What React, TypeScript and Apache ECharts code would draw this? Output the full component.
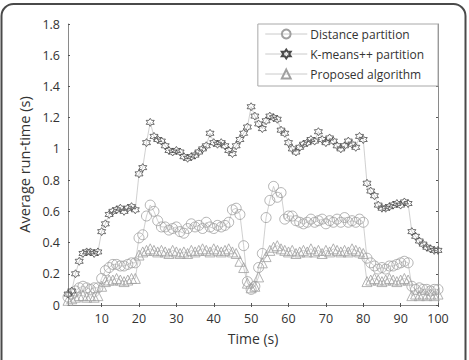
import React, { useEffect, useRef } from "react";
import * as echarts from "echarts";

const times: number[] = Array.from({ length: 100 }, (_, i) => i + 1);
const xTickValues = [10, 20, 30, 40, 50, 60, 70, 80, 90, 100];

const distancePartition = [
  0.05, 0.07, 0.09, 0.11, 0.12, 0.11, 0.10, 0.11, 0.11, 0.17,
  0.22, 0.24, 0.26, 0.26, 0.25, 0.25, 0.26, 0.27, 0.27, 0.43,
  0.45, 0.57, 0.64, 0.60, 0.54, 0.50, 0.50, 0.48, 0.49, 0.50,
  0.47, 0.46, 0.49, 0.52, 0.50, 0.51, 0.49, 0.53, 0.50, 0.49,
  0.51, 0.50, 0.51, 0.53, 0.61, 0.62, 0.58, 0.38, 0.15, 0.10,
  0.12, 0.24, 0.33, 0.56, 0.67, 0.76, 0.69, 0.72, 0.55, 0.57,
  0.57, 0.54, 0.53, 0.52, 0.53, 0.55, 0.53, 0.54, 0.55, 0.52,
  0.54, 0.53, 0.55, 0.53, 0.56, 0.53, 0.54, 0.53, 0.55, 0.53,
  0.30, 0.27, 0.25, 0.23, 0.24, 0.23, 0.25, 0.25, 0.26, 0.27,
  0.28, 0.27, 0.12, 0.10, 0.11, 0.10, 0.10, 0.09, 0.10, 0.10,
];

const kmeansPartition = [
  0.07, 0.09, 0.20, 0.28, 0.33, 0.34, 0.34, 0.33, 0.34, 0.47,
  0.52, 0.58, 0.60, 0.61, 0.62, 0.60, 0.62, 0.63, 0.61, 0.84,
  0.88, 1.04, 1.17, 1.08, 1.06, 1.05, 1.02, 0.99, 0.98, 0.99,
  0.98, 0.95, 0.94, 0.95, 0.96, 0.98, 1.00, 1.02, 1.10, 1.04,
  1.03, 1.04, 1.02, 0.99, 0.97, 1.02, 1.06, 1.10, 1.14, 1.27,
  1.21, 1.16, 1.13, 1.18, 1.21, 1.20, 1.19, 1.12, 1.10, 1.04,
  1.00, 0.98, 1.01, 1.03, 1.04, 1.06, 1.05, 1.11, 1.06, 1.04,
  1.07, 1.05, 1.02, 1.00, 1.02, 1.05, 1.03, 1.01, 1.08, 1.06,
  0.78, 0.73, 0.70, 0.64, 0.62, 0.62, 0.63, 0.64, 0.65, 0.64,
  0.66, 0.65, 0.47, 0.44, 0.41, 0.39, 0.37, 0.36, 0.35, 0.35,
];

const proposedAlgorithm = [
  0.03, 0.04, 0.05, 0.06, 0.06, 0.05, 0.06, 0.05, 0.06, 0.12,
  0.15, 0.16, 0.16, 0.17, 0.16, 0.15, 0.16, 0.17, 0.17, 0.32,
  0.34, 0.35, 0.36, 0.35, 0.34, 0.35, 0.34, 0.33, 0.35, 0.34,
  0.33, 0.34, 0.33, 0.35, 0.34, 0.35, 0.36, 0.35, 0.34, 0.36,
  0.35, 0.34, 0.35, 0.36, 0.34, 0.33, 0.28, 0.24, 0.14, 0.11,
  0.12, 0.18, 0.27, 0.31, 0.35, 0.37, 0.38, 0.36, 0.35, 0.34,
  0.35, 0.33, 0.34, 0.35, 0.34, 0.36, 0.34, 0.35, 0.33, 0.35,
  0.34, 0.36, 0.35, 0.34, 0.35, 0.34, 0.36, 0.35, 0.34, 0.33,
  0.15, 0.16, 0.17, 0.16, 0.15, 0.16, 0.17, 0.16, 0.15, 0.16,
  0.17, 0.16, 0.06, 0.07, 0.06, 0.07, 0.06, 0.07, 0.06, 0.07,
];

const seriesNames = ["Distance partition", "K-means++ partition", "Proposed algorithm"];

const FONT = "'Open Sans', 'Noto Sans', sans-serif";
const TEXT = "#333";
const LINE = "#c4c4c4";
const AXIS = "#8a8a8a";

const hexagram =
  "path://M0,-10 L2.9,-5 L8.66,-5 L5.8,0 L8.66,5 L2.9,5 L0,10 L-2.9,5 L-8.66,5 L-5.8,0 L-8.66,-5 L-2.9,-5 Z";

export default function App() {
  const ref = useRef<HTMLDivElement>(null);
  useEffect(() => {
    if (!ref.current) return;
    const chart = echarts.init(ref.current, null, { renderer: "svg" });
    const pair = (arr: number[]) => times.map((t, i) => [t, arr[i]]);
    const tickCommon = { inside: true, length: 2, lineStyle: { color: "#555", width: 1 } };
    chart.setOption({
      animation: false,
      backgroundColor: "#fff",
      textStyle: { fontFamily: FONT },
      grid: { left: 68, right: 31, top: 24, bottom: 55, containLabel: false },
      legend: {
        orient: "vertical",
        right: 31,
        top: 24,
        data: seriesNames,
        itemWidth: 42,
        itemHeight: 11,
        itemGap: 8,
        padding: [4, 14, 6, 7],
        backgroundColor: "#fff",
        borderColor: "#a8a8a8",
        borderWidth: 1,
        lineStyle: { width: 0.8, color: "#bdbdbd" },
        textStyle: { fontFamily: FONT, fontSize: 12, color: TEXT, padding: [0, 0, 0, -2] },
      },
      xAxis: [
        {
          type: "value",
          min: 1,
          max: 100,
          name: "Time (s)",
          nameLocation: "middle",
          nameGap: 26,
          nameTextStyle: { fontFamily: FONT, fontSize: 14, color: TEXT },
          axisLine: { show: true, lineStyle: { color: AXIS, width: 1 } },
          axisTick: { ...tickCommon, customValues: xTickValues },
          axisLabel: { customValues: xTickValues, fontFamily: FONT, fontSize: 12.5, color: TEXT, margin: 7 },
          splitLine: { show: false },
        },
        {
          type: "value",
          position: "top",
          min: 1,
          max: 100,
          axisLine: { show: true, lineStyle: { color: AXIS, width: 1 } },
          axisTick: { ...tickCommon, customValues: xTickValues },
          axisLabel: { show: false },
          splitLine: { show: false },
        },
      ],
      yAxis: [
        {
          type: "value",
          min: 0,
          max: 1.8,
          interval: 0.2,
          name: "Average run-time (s)",
          nameLocation: "middle",
          nameGap: 34,
          nameTextStyle: { fontFamily: FONT, fontSize: 14.5, color: TEXT },
          axisLine: { show: true, lineStyle: { color: AXIS, width: 1 } },
          axisTick: { ...tickCommon },
          axisLabel: { fontFamily: FONT, fontSize: 12.5, color: TEXT, margin: 8 },
          splitLine: { show: false },
        },
        {
          type: "value",
          position: "right",
          min: 0,
          max: 1.8,
          interval: 0.2,
          axisLine: { show: true, lineStyle: { color: AXIS, width: 1 } },
          axisTick: { ...tickCommon },
          axisLabel: { show: false },
          splitLine: { show: false },
        },
      ],
      series: [
        {
          name: seriesNames[0],
          type: "line",
          data: pair(distancePartition),
          symbol: "circle",
          symbolSize: 10,
          lineStyle: { color: LINE, width: 0.8 },
          itemStyle: { color: "rgba(0,0,0,0)", borderColor: "#a0a0a0", borderWidth: 0.8 },
          z: 2,
        },
        {
          name: seriesNames[1],
          type: "line",
          data: pair(kmeansPartition),
          symbol: hexagram,
          symbolSize: 8,
          lineStyle: { color: LINE, width: 0.8 },
          itemStyle: { color: "rgba(0,0,0,0)", borderColor: "#4a4a4a", borderWidth: 0.8 },
          z: 3,
        },
        {
          name: seriesNames[2],
          type: "line",
          data: pair(proposedAlgorithm),
          symbol: "triangle",
          symbolSize: 10,
          lineStyle: { color: LINE, width: 0.8 },
          itemStyle: { color: "rgba(0,0,0,0)", borderColor: "#a0a0a0", borderWidth: 0.8 },
          z: 2,
        },
      ],
      graphic: [
        {
          type: "rect",
          silent: true,
          z: 100,
          shape: { x: 1.5, y: 4, width: 464, height: 420, r: 12 },
          style: { fill: "none", stroke: "#4a4a4a", lineWidth: 2 },
        },
      ],
    });
    return () => chart.dispose();
  }, []);
  return (
    <div
      ref={ref}
      style={{ position: "fixed", left: 0, top: 0, width: 469, height: 360, background: "#fff" }}
    />
  );
}
